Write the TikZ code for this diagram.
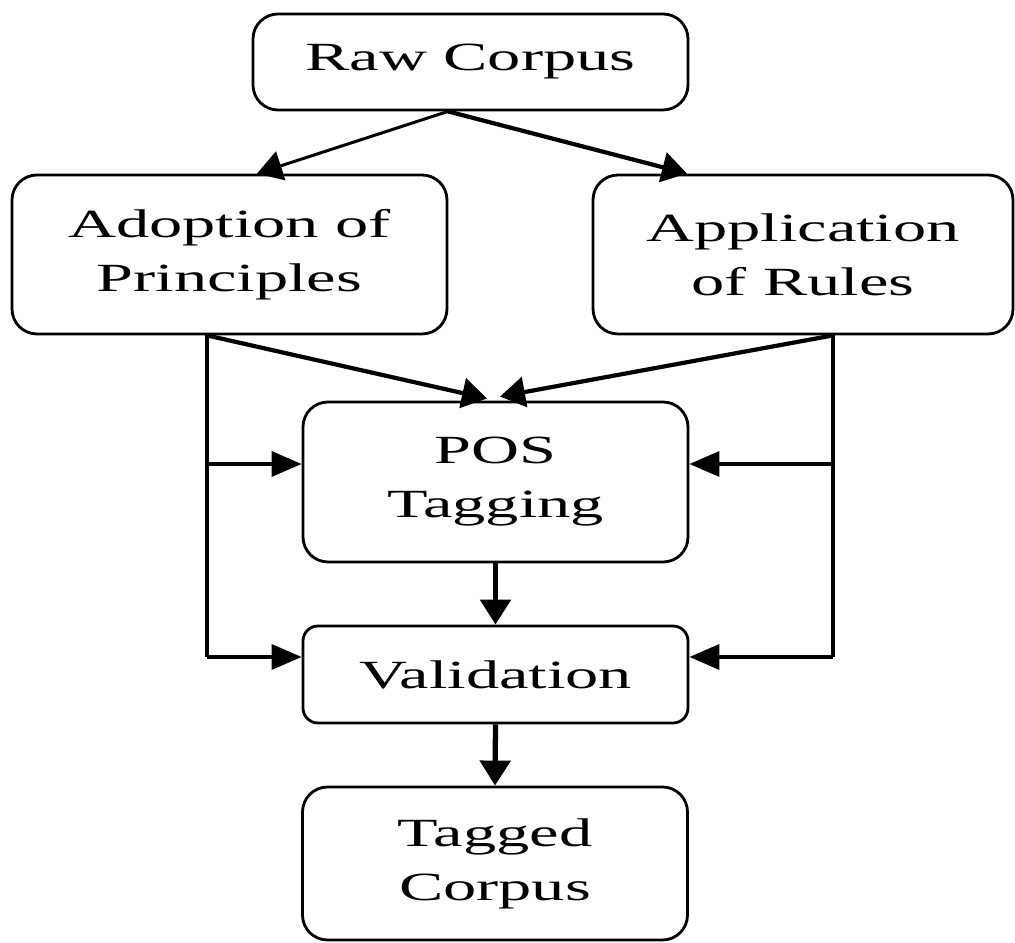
\documentclass[tikz,border=0pt]{standalone}
\usepackage{fontspec}
\newfontfamily\boxfont[FakeStretch=1.66]{Liberation Serif}
\usetikzlibrary{arrows.meta, positioning}

\begin{document}
\begin{tikzpicture}[
		stagebox/.style={draw, line width=1.6pt, rounded corners=0.5cm, align=center, inner sep=0pt, font=\boxfont\fontsize{22.76}{30.7}\selectfont},
		flowarrow/.style={line width=2.4pt, -{Triangle[length=0.5cm, width=0.6cm]}},
		sidearrow/.style={line width=2pt, -{Triangle[length=0.6cm, width=0.5cm]}}
	]
		\useasboundingbox (0, 0) rectangle (20.3, 18.86);
		% Stages:
		\node[stagebox, minimum width=8.7cm, minimum height=1.92cm] (raw) at (9.41, 17.62){Raw Corpus};
		\node[stagebox, minimum width=8.7cm, minimum height=3.18cm] (adopt) at (4.59, 13.77){Adoption of\\Principles};
		\node[stagebox, minimum width=8.4cm, minimum height=3.18cm] (appl) at (16.06, 13.77){Application\\of Rules};
		\node[stagebox, minimum width=7.7cm, minimum height=3.2cm] (pos) at (9.91, 9.22){POS\\Tagging};
		\node[stagebox, minimum width=7.7cm, minimum height=1.94cm, rounded corners=0.3cm] (valid) at (9.91, 5.37){Validation};
		\node[stagebox, minimum width=7.7cm, minimum height=3.06cm] (tagged) at (9.9, 1.59){Tagged\\Corpus};
		% Split points:
		\coordinate (rsplit) at ([xshift=-0.45cm]raw.south);
		\coordinate (lfoot) at ([xshift=-0.45cm]adopt.south);
		\coordinate (rfoot) at ([xshift=0.6cm]appl.south);
		\coordinate (posin) at ([yshift=0.36cm]pos.west);
		\coordinate (posinr) at ([yshift=0.36cm]pos.east);
		\coordinate (valin) at ([yshift=0.35cm]valid.west);
		\coordinate (valinr) at ([yshift=0.35cm]valid.east);
		% Connectors:
		\draw[flowarrow, line width=1.7pt] (rsplit) -- ([xshift=0.55cm]adopt.north);
		\draw[flowarrow] (rsplit) -- ([xshift=-2.32cm]appl.north);
		\draw[flowarrow] (lfoot) -- ([xshift=-0.17cm, yshift=0.04cm]pos.north);
		\draw[flowarrow] (rfoot) -- ([xshift=0.09cm, yshift=0.08cm]pos.north);
		\draw[line width=1.8pt] (lfoot) -- (lfoot |- valin);
		\draw[line width=1.8pt] (rfoot) -- (rfoot |- valinr);
		\draw[sidearrow] (lfoot |- posin) -- (posin);
		\draw[sidearrow] (lfoot |- valin) -- (valin);
		\draw[sidearrow] (rfoot |- posinr) -- (posinr);
		\draw[sidearrow] (rfoot |- valinr) -- (valinr);
		\draw[flowarrow, line width=3pt] (pos.south) -- (valid.north);
		\draw[flowarrow, line width=3pt] (valid.south) -- (tagged.north);
	\end{tikzpicture}
\end{document}
